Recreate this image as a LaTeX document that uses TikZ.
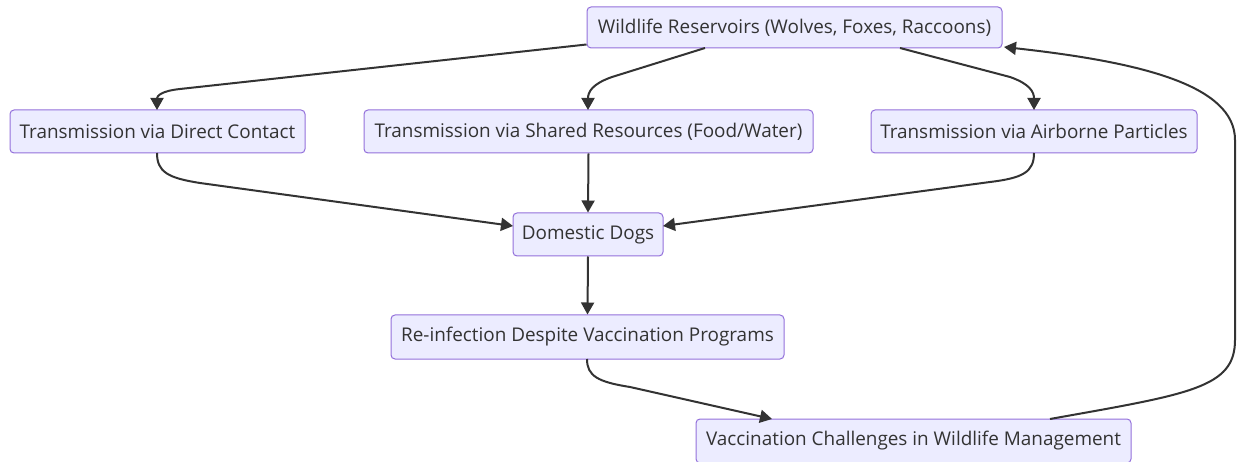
\documentclass[tikz,border=0pt]{standalone}
\usepackage{fontspec}
\setmainfont{Open Sans}
\usetikzlibrary{calc,arrows.meta}
\definecolor{nodefill}{HTML}{ECECFF}
\definecolor{nodeline}{HTML}{9370DB}
\definecolor{txt}{HTML}{333333}
\definecolor{edge}{HTML}{333333}
\tikzset{
  box/.style={draw=nodeline, fill=nodefill, line width=1pt, rounded corners=4pt,
    text=txt, font=\fontsize{18.9}{22}\selectfont, inner sep=0pt, anchor=center},
  link/.style={draw=edge, line width=2pt, -{Triangle[length=12pt,width=13pt]}},
}
\begin{document}
\begin{tikzpicture}[x=1pt,y=-1pt]
\useasboundingbox (0,0) rectangle (1237,462);
\node[box, minimum width=415pt, minimum height=41pt] (wr) at (794.5,27.5) {Wildlife Reservoirs (Wolves, Foxes, Raccoons)};
\node[box, minimum width=295pt, minimum height=43pt] (dc) at (157.5,131.5) {Transmission via Direct Contact};
\node[box, minimum width=449pt, minimum height=43pt] (sr) at (588.5,131.5) {Transmission via Shared Resources (Food/Water)};
\node[box, minimum width=326pt, minimum height=43pt] (air) at (1034,131.5) {Transmission via Airborne Particles};
\node[box, minimum width=150pt, minimum height=43pt] (dd) at (588,234.5) {Domestic Dogs};
\node[box, minimum width=393pt, minimum height=44pt] (ri) at (587.5,337) {Re-infection Despite Vaccination Programs};
\node[box, minimum width=435pt, minimum height=44pt] (vc) at (913.5,441) {Vaccination Challenges in Wildlife Management};

\coordinate (wrl) at ($(wr.south west)+(0,-4)$);
\coordinate (wrb1) at (705,48);
\coordinate (wrb2) at (900,48);
\coordinate (dct) at (157,110);
\coordinate (srt) at (588,110);
\coordinate (airt) at (1034,110);
\coordinate (dcb) at (157,153);
\coordinate (airb) at (1034,153);
\coordinate (ddl) at (513,226);
\coordinate (ddr) at (663,226);
\coordinate (rib) at (587,359);
\coordinate (vct) at (772,419);
\coordinate (vcs) at (1050,419);
\coordinate (wre) at (1004,47);

\draw[link] (wrl) -- (180,89) .. controls (161,91) and (157,96) .. (dct);
\draw[link] (wrb1) -- (612,77) .. controls (592,84) and (588,92) .. (srt);
\draw[link] (wrb2) -- (1010,77) .. controls (1030,84) and (1034,92) .. (airt);
\draw[link] (dcb) .. controls (157,172) and (168,178) .. (200,183) -- (ddl);
\draw[link] (sr.south) -- (dd.north);
\draw[link] (airb) .. controls (1034,172) and (1023,178) .. (990,182) -- (ddr);
\draw[link] (dd.south) -- (ri.north);
\draw[link] (rib) .. controls (587,376) and (598,382) .. (630,387) -- (vct);
\draw[link] (vcs) .. controls (1190,394) and (1235,388) .. (1235,340)
  -- (1235,140) .. controls (1235,85) and (1140,62) .. (wre);
\end{tikzpicture}
\end{document}
